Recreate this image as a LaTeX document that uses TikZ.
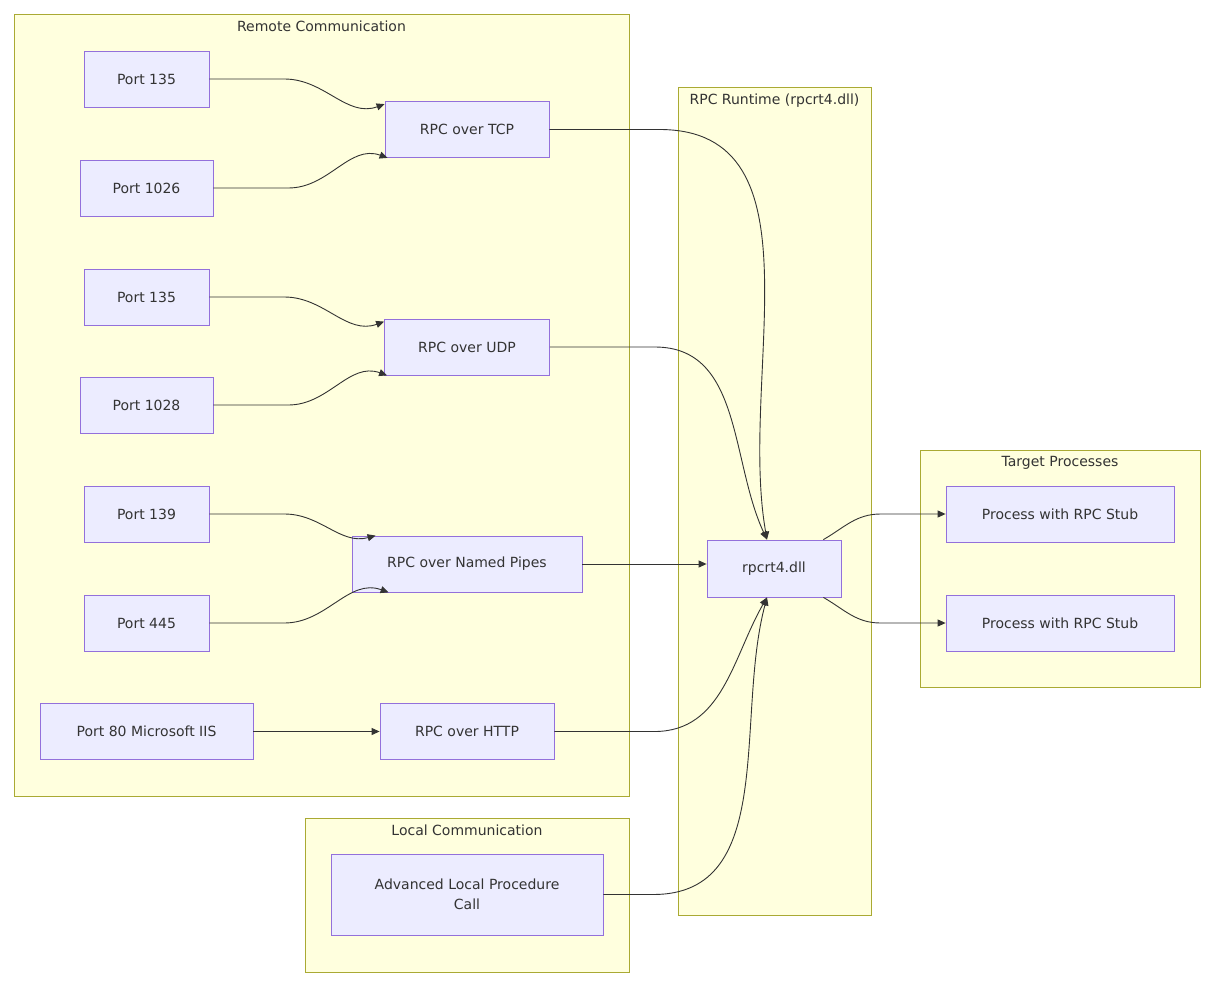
\documentclass[tikz,border=0pt]{standalone}
\usepackage{fontspec}
\setmainfont{DejaVu Sans}
\usetikzlibrary{arrows.meta,calc}
\definecolor{nfill}{HTML}{ECECFF}
\definecolor{nstroke}{HTML}{9370DB}
\definecolor{cfill}{HTML}{FFFFDE}
\definecolor{cstroke}{HTML}{AAAA33}
\definecolor{ecol}{HTML}{333333}
\begin{document}
\begin{tikzpicture}[x=1pt,y=-1pt,
  nd/.style={draw=nstroke,fill=nfill,line width=0.8pt,minimum height=56pt,align=center,inner sep=0pt,font=\fontsize{14}{20}\selectfont,text=ecol},
  cl/.style={draw=cstroke,fill=cfill,line width=0.8pt},
  cll/.style={font=\fontsize{14}{17}\selectfont,text=ecol,anchor=north},
  ed/.style={draw=ecol,line width=0.9pt,-{Triangle[length=8pt,width=7pt]}}]
\useasboundingbox (0,0) rectangle (1214,990);
% clusters
\draw[cl] (14,14) rectangle (629,796);
\node[cll] (lrem) at (321.5,17) {Remote Communication};
\draw[cl] (305,818) rectangle (629,972);
\node[cll] (lloc) at (467,821) {Local Communication};
\draw[cl] (678,87) rectangle (871,915);
\node[cll] (lrt) at (774.5,90) {RPC Runtime (rpcrt4.dll)};
\draw[cl] (920,450) rectangle (1200,687);
\node[cll] (ltp) at (1060,453) {Target Processes};
% nodes
\node[nd,minimum width=125pt] (pa) at (146.5,79) {Port 135};
\node[nd,minimum width=133pt] (pb) at (146.5,188) {Port 1026};
\node[nd,minimum width=164pt] (tcp) at (467,129.5) {RPC over TCP};
\node[nd,minimum width=125pt] (pc) at (146.5,297) {Port 135};
\node[nd,minimum width=133pt] (pd) at (146.5,405) {Port 1028};
\node[nd,minimum width=165pt] (udp) at (467,347) {RPC over UDP};
\node[nd,minimum width=125pt] (pe) at (146.5,514) {Port 139};
\node[nd,minimum width=125pt] (pf) at (146.5,623) {Port 445};
\node[nd,minimum width=230pt] (np) at (467,564) {RPC over Named Pipes};
\node[nd,minimum width=213pt] (pg) at (146.5,731.5) {Port 80 Microsoft IIS};
\node[nd,minimum width=174pt] (http) at (467,731.5) {RPC over HTTP};
\node[nd,minimum width=272pt,minimum height=81pt] (alpc) at (467,894.5) {Advanced Local Procedure\\Call};
\node[nd,minimum width=134pt,minimum height=57pt] (rt) at (774,568.5) {rpcrt4.dll};
\node[nd,minimum width=228pt] (p1) at (1060,514) {Process with RPC Stub};
\node[nd,minimum width=228pt] (p2) at (1060,623) {Process with RPC Stub};
% edges into protocol nodes
\draw[ed] (pa.east) -- ++(75,0) to[out=0,in=200] ($(tcp.north west)+(0,3)$);
\draw[ed] (pb.east) -- ++(75,0) to[out=0,in=160] ($(tcp.south west)+(3,0)$);
\draw[ed] (pc.east) -- ++(75,0) to[out=0,in=200] ($(udp.north west)+(0,3)$);
\draw[ed] (pd.east) -- ++(75,0) to[out=0,in=160] ($(udp.south west)+(3,0)$);
\draw[ed] (pe.east) -- ++(75,0) to[out=0,in=195] ($(np.north west)+(24,0)$);
\draw[ed] (pf.east) -- ++(75,0) to[out=0,in=160] ($(np.south west)+(37,0)$);
\draw[ed] (pg) -- (http);
% edges into rpcrt4
\draw[ed] (tcp.east) -- ++(110,0) to[out=0,in=100] ($(rt.north)+(-7,0)$);
\draw[ed] (udp.east) -- ++(105,0) to[out=0,in=115] ($(rt.north)+(-7,0)$);
\draw[ed] (np.east) -- (rt.west|-np.east);
\draw[ed] (http.east) -- ++(100,0) to[out=0,in=240] ($(rt.south)+(-7,0)$);
\draw[ed] (alpc.east) -- ++(50,0) to[out=0,in=255] ($(rt.south)+(-7,0)$);
% out to processes
\draw[ed] ($(rt.north east)+(-18,0)$) to[out=30,in=180] ($(p1.west)+(-65,0)$) -- (p1.west);
\draw[ed] ($(rt.south east)+(-18,0)$) to[out=-30,in=180] ($(p2.west)+(-65,0)$) -- (p2.west);
\end{tikzpicture}
\end{document}
